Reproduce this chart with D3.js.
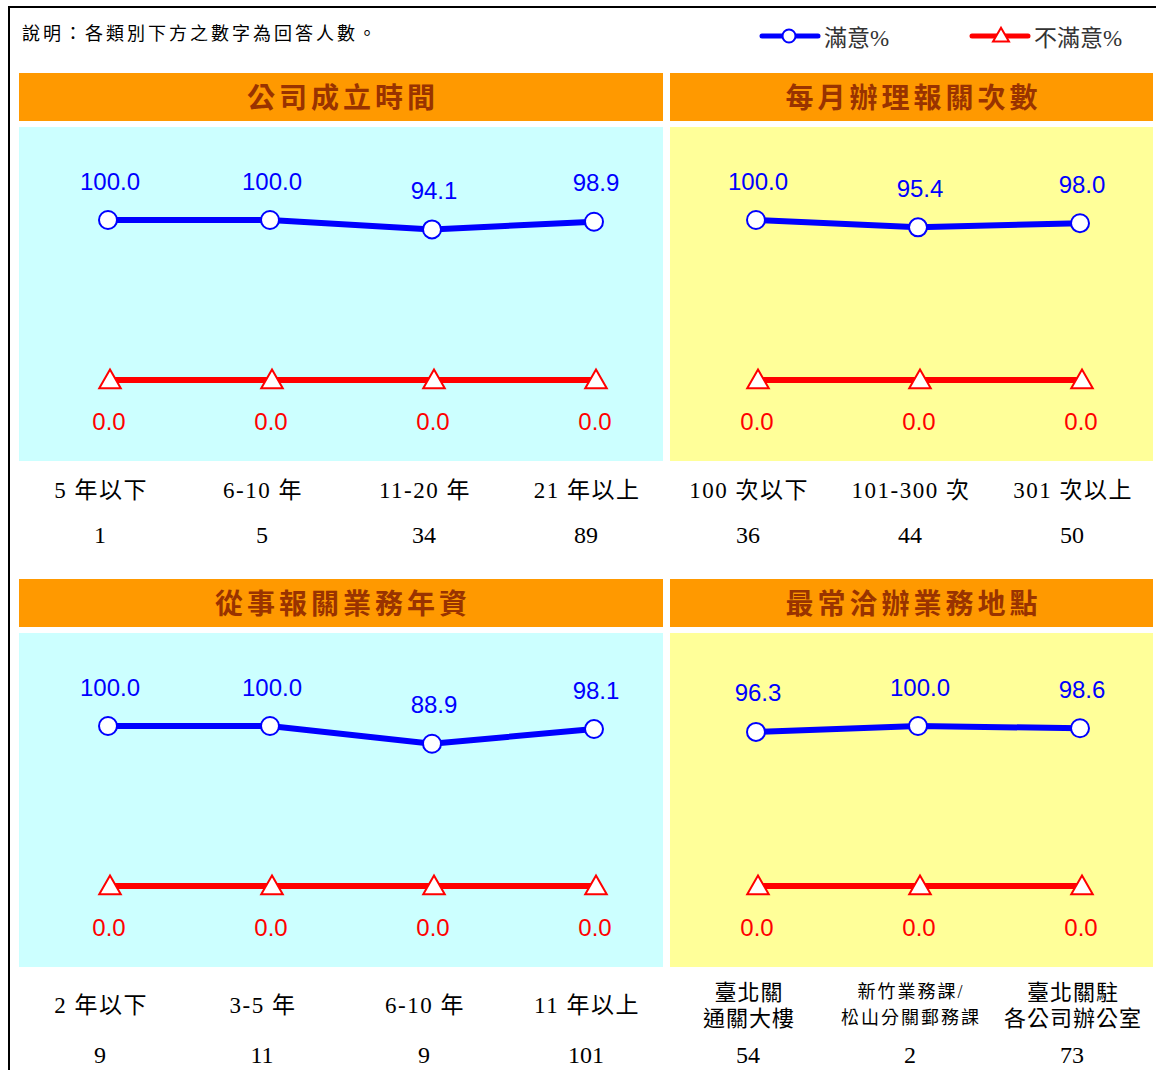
<!DOCTYPE html>
<html>
<head>
<meta charset="utf-8">
<script src="https://cdn.jsdelivr.net/npm/d3@7"></script>
<style>
  body { margin: 0; background: #fff; }
  svg { display: block; }
</style>
</head>
<body>
<div id="chart"></div>
<script>
// data
const companyAgeCats = ['5 年以下', '6-10 年', '11-20 年', '21 年以上'];
const companyAgeSat = [100.0, 100.0, 94.1, 98.9];
const companyAgeDis = [0.0, 0.0, 0.0, 0.0];
const companyAgeN = [1, 5, 34, 89];

const monthlyCats = ['100 次以下', '101-300 次', '301 次以上'];
const monthlySat = [100.0, 95.4, 98.0];
const monthlyDis = [0.0, 0.0, 0.0];
const monthlyN = [36, 44, 50];

const seniorityCats = ['2 年以下', '3-5 年', '6-10 年', '11 年以上'];
const senioritySat = [100.0, 100.0, 88.9, 98.1];
const seniorityDis = [0.0, 0.0, 0.0, 0.0];
const seniorityN = [9, 11, 9, 101];

const locationCats = ['臺北關\n通關大樓', '新竹業務課/\n松山分關郵務課', '臺北關駐\n各公司辦公室'];
const locationSat = [96.3, 100.0, 98.6];
const locationDis = [0.0, 0.0, 0.0];
const locationN = [54, 2, 73];

const legendLabels = ['滿意%', '不滿意%'];
const noteText = '說明：各類別下方之數字為回答人數。';

const panels = [
    {title: '公司成立時間', cats: companyAgeCats, sat: companyAgeSat, dis: companyAgeDis, n: companyAgeN, col: 0, row: 0, bg: '#ccffff'},
    {title: '每月辦理報關次數', cats: monthlyCats, sat: monthlySat, dis: monthlyDis, n: monthlyN, col: 4, row: 0, bg: '#ffff99'},
    {title: '從事報關業務年資', cats: seniorityCats, sat: senioritySat, dis: seniorityDis, n: seniorityN, col: 0, row: 1, bg: '#ccffff'},
    {title: '最常洽辦業務地點', cats: locationCats, sat: locationSat, dis: locationDis, n: locationN, col: 4, row: 1, bg: '#ffff99'}
];

const W = 1156, H = 1070;
const colW = 162, gridX0 = 19;
const rows = [
    {headTop: 73, plotTop: 127, labelY: 490, countY: 535},
    {headTop: 579, plotTop: 633, labelY: 1005, countY: 1055}
];
const serif = '"Liberation Serif", "Times New Roman", "Noto Sans CJK TC", serif';
const sans = '"Liberation Sans", Arial, sans-serif';
const blue = '#0000ff', red = '#ff0000';

const svg = d3.select('#chart').append('svg')
    .attr('width', W)
    .attr('height', H);

// outer frame (only left and top visible)
svg.append('rect')
    .attr('x', 9).attr('y', 7)
    .attr('width', W + 40).attr('height', H + 40)
    .attr('fill', 'none')
    .attr('stroke', '#000')
    .attr('stroke-width', 2);

svg.append('text')
    .attr('x', 22).attr('y', 34)
    .attr('dominant-baseline', 'central')
    .attr('font-family', serif)
    .attr('font-size', 18)
    .attr('letter-spacing', 3)
    .text(noteText);

// legend
const triPath = d3.symbol().type(d3.symbolTriangle);
const legend = svg.append('g');
legendLabels.forEach((lab, i) => {
    const lx = 762 + i * 210, ly = 36;
    const g = legend.append('g').attr('transform', `translate(${lx},${ly})`);
    g.append('line')
        .attr('x1', 0).attr('x2', 56)
        .attr('stroke', i === 0 ? blue : red)
        .attr('stroke-width', 5)
        .attr('stroke-linecap', 'round');
    if (i === 0) {
        g.append('circle').attr('cx', 27).attr('r', 6.5)
            .attr('fill', '#fff').attr('stroke', blue).attr('stroke-width', 2);
    } else {
        g.append('path').attr('d', triPath.size(110)())
            .attr('transform', 'translate(29,1)')
            .attr('fill', '#fff').attr('stroke', red).attr('stroke-width', 2);
    }
    g.append('text')
        .attr('x', 62).attr('y', 2)
        .attr('dominant-baseline', 'central')
        .attr('font-family', serif)
        .attr('font-size', 23)
        .attr('fill', '#333')
        .text(lab);
});

function drawPanel(p) {
    const r = rows[p.row];
    const start = gridX0 + p.col * colW;
    const end = start + p.cats.length * colW;
    const rx = p.col ? start + 3 : start;
    const rw = p.col ? end - start - 3 : end - start - 4;

    const x = d3.scaleBand().domain(p.cats).range([start, end]).padding(0);
    const y = d3.scaleLinear().domain([0, 100]).range([r.plotTop + 253, r.plotTop + 93]);
    const px = c => x(c) + x.bandwidth() / 2 + 8;

    const g = svg.append('g');

    // header
    g.append('rect')
        .attr('x', rx).attr('y', r.headTop)
        .attr('width', rw).attr('height', 48)
        .attr('fill', '#ff9900');
    g.append('text')
        .attr('x', rx + rw / 2 + 2).attr('y', r.headTop + 25)
        .attr('text-anchor', 'middle')
        .attr('dominant-baseline', 'central')
        .attr('font-family', serif)
        .attr('font-size', 28)
        .attr('font-weight', 'bold')
        .attr('letter-spacing', 4)
        .attr('fill', '#993300')
        .text(p.title);

    // plot background
    g.append('rect')
        .attr('x', rx).attr('y', r.plotTop)
        .attr('width', rw).attr('height', 334)
        .attr('fill', p.bg);

    const line = d3.line().x(d => px(d.c)).y(d => y(d.v));
    const satData = p.cats.map((c, i) => ({c: c, v: p.sat[i]}));
    const disData = p.cats.map((c, i) => ({c: c, v: p.dis[i]}));

    g.append('path').datum(satData)
        .attr('d', line).attr('fill', 'none')
        .attr('stroke', blue).attr('stroke-width', 6);
    g.append('path').datum(disData)
        .attr('d', line).attr('fill', 'none')
        .attr('stroke', red).attr('stroke-width', 6);

    g.selectAll('.sat-pt').data(satData).enter().append('circle')
        .attr('class', 'sat-pt')
        .attr('cx', d => px(d.c)).attr('cy', d => y(d.v))
        .attr('r', 9)
        .attr('fill', '#fff').attr('stroke', blue).attr('stroke-width', 2);
    g.selectAll('.dis-pt').data(disData).enter().append('path')
        .attr('class', 'dis-pt')
        .attr('d', triPath.size(200)())
        .attr('transform', d => `translate(${px(d.c) + 2},${y(d.v) + 2})`)
        .attr('fill', '#fff').attr('stroke', red).attr('stroke-width', 2);

    g.selectAll('.sat-lab').data(satData).enter().append('text')
        .attr('class', 'sat-lab')
        .attr('x', d => px(d.c) + 2).attr('y', d => y(d.v) - 39)
        .attr('text-anchor', 'middle')
        .attr('dominant-baseline', 'central')
        .attr('font-family', sans).attr('font-size', 24)
        .attr('fill', blue)
        .text(d => d.v.toFixed(1));
    g.selectAll('.dis-lab').data(disData).enter().append('text')
        .attr('class', 'dis-lab')
        .attr('x', d => px(d.c) + 1).attr('y', d => y(d.v) + 41)
        .attr('text-anchor', 'middle')
        .attr('dominant-baseline', 'central')
        .attr('font-family', sans).attr('font-size', 24)
        .attr('fill', red)
        .text(d => d.v.toFixed(1));

    // category labels and counts
    p.cats.forEach((c, i) => {
        const cx = x(c) + x.bandwidth() / 2;
        const parts = c.split('\n');
        const small = parts.length > 1 && parts.some(s => s.length > 6);
        const t = g.append('text')
            .attr('text-anchor', 'middle')
            .attr('font-family', serif)
            .attr('font-size', small ? 18 : (parts.length > 1 ? 22 : 23))
            .attr('letter-spacing', small ? 2 : (parts.length > 1 ? 1 : 1.5))
            .attr('fill', '#000');
        if (parts.length === 1) {
            t.attr('x', cx + 1).attr('y', r.labelY).attr('dominant-baseline', 'central').text(c);
        } else {
            parts.forEach((s, k) => {
                t.append('tspan')
                    .attr('x', cx + 1)
                    .attr('y', r.labelY - 13 + k * 26)
                    .attr('dominant-baseline', 'central')
                    .text(s);
            });
        }
        g.append('text')
            .attr('x', cx).attr('y', r.countY)
            .attr('text-anchor', 'middle')
            .attr('dominant-baseline', 'central')
            .attr('font-family', serif)
            .attr('font-size', 24)
            .attr('fill', '#000')
            .text(p.n[i]);
    });
}

panels.forEach(drawPanel);
</script>
</body>
</html>
